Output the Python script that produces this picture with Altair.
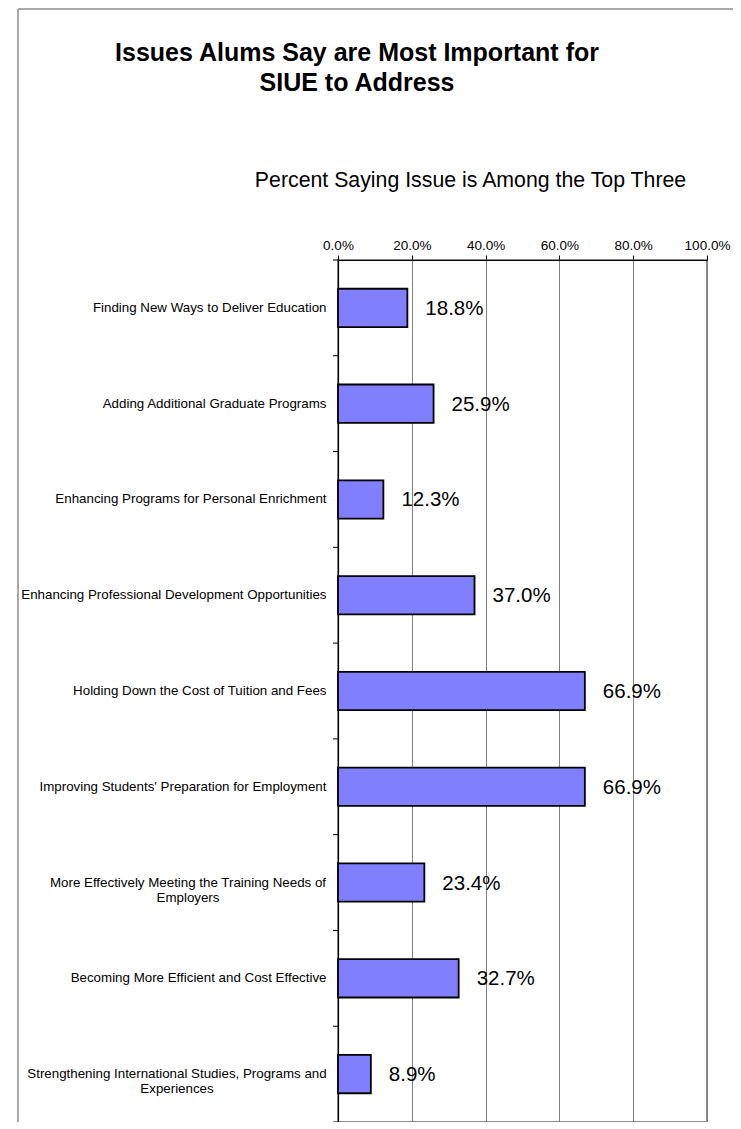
import altair as alt

categories = [
    "Finding New Ways to Deliver Education",
    "Adding Additional Graduate Programs",
    "Enhancing Programs for Personal Enrichment",
    "Enhancing Professional Development Opportunities",
    "Holding Down the Cost of Tuition and Fees",
    "Improving Students' Preparation for Employment",
    "More Effectively Meeting the Training Needs of|Employers",
    "Becoming More Efficient and Cost Effective",
    "Strengthening International Studies, Programs and|Experiences",
]
values = [0.188, 0.259, 0.123, 0.370, 0.669, 0.669, 0.234, 0.327, 0.089]
x_ticks = [0.0, 0.2, 0.4, 0.6, 0.8, 1.0]
title_lines = ["Issues Alums Say are Most Important for", "SIUE to Address"]
subtitle = "Percent Saying Issue is Among the Top Three"

records = [{"issue": c, "pct": v} for c, v in zip(categories, values)]
data = alt.Data(values=records)

W, H = 369, 862
FONT = "Liberation Sans"
LABEL_SIZE = 13.33

x_enc = alt.X(
    "pct:Q",
    scale=alt.Scale(domain=[0, 1], nice=False),
    axis=alt.Axis(
        orient="top", values=x_ticks, format=".1%", labelFlush=False,
        title=subtitle, titleX=132, titleY=-74, titleAlign="center",
        titleBaseline="alphabetic", titleFont=FONT, titleFontSize=21.3,
        titleFontWeight="normal", titleColor="black",
        labelFont=FONT, labelFontSize=13.5, labelColor="black", labelPadding=3,
        tickSize=5, tickColor="black", domainColor="black", domainWidth=1.2,
        grid=True, gridColor="#808080", gridWidth=1,
    ),
)

y_enc = alt.Y(
    "issue:N",
    sort=None,
    scale=alt.Scale(domain=categories, paddingInner=0, paddingOuter=0),
    axis=alt.Axis(
        title=None, grid=False,
        domainColor="black", domainWidth=1.2, tickColor="black", tickSize=5, tickOpacity=0,
        labelFont=FONT, labelFontSize=LABEL_SIZE, labelColor="black",
        labelExpr="indexof(datum.label, '|') >= 0 ? '' : datum.label",
        labelLimit=400, labelPadding=7,
    ),
)

base = alt.Chart(data)
bars = base.mark_bar(
    color="#8080FF", stroke="black", strokeWidth=1.8, height={"band": 0.4}
).encode(x=x_enc, y=y_enc)
labels = base.mark_text(
    align="left", baseline="middle", dx=18, dy=1, fontSize=20.5, font=FONT, color="black"
).encode(x="pct:Q", y=alt.Y("issue:N", sort=None), text=alt.Text("pct:Q", format=".1%"))

# category tick marks at the boundaries between bands
band_ticks = base.mark_rule(color="black", strokeWidth=1).encode(
    y=alt.Y("issue:N", sort=None, bandPosition=0), x=alt.value(-5), x2=alt.value(0)
)

single = base.transform_aggregate(n="count()")
bottom_tick = single.mark_rule(color="black", strokeWidth=1).encode(
    y=alt.value(H), x=alt.value(-5), x2=alt.value(0)
)


def wrapped_label(prefix, cx):
    return base.transform_filter(
        f"indexof(datum.issue, '{prefix}') == 0"
    ).transform_calculate(
        lines="split(datum.issue, '|')"
    ).mark_text(
        font=FONT, fontSize=LABEL_SIZE, align="center", baseline="middle", lineHeight=15, color="black"
    ).encode(x=alt.value(cx), y=alt.Y("issue:N", sort=None), text="lines:N")


wrap1 = wrapped_label("More Eff", -150)
wrap2 = wrapped_label("Strength", -161)

title = single.mark_text(
    font=FONT, fontSize=25, fontWeight="bold", align="center", baseline="alphabetic",
    lineHeight=30, color="black"
).encode(x=alt.value(19), y=alt.value(-199), text=alt.value(title_lines))

frame_left = single.mark_rule(color="#8c8c8c", strokeWidth=1.5).encode(
    x=alt.value(-320), x2=alt.value(-320), y=alt.value(-251), y2=alt.value(H + 30)
)
frame_top = single.mark_rule(color="#8c8c8c", strokeWidth=1.5).encode(
    x=alt.value(-320), x2=alt.value(430), y=alt.value(-251), y2=alt.value(-251)
)

chart = alt.layer(
    bars, labels, band_ticks, bottom_tick, wrap1, wrap2, title, frame_left, frame_top
).properties(
    width=W, height=H,
    autosize=alt.AutoSizeParams(type="none"),
    padding={"left": 330, "top": 252, "right": 26, "bottom": 0},
).configure(font=FONT).configure_view(stroke="#8c8c8c", strokeWidth=2)

chart.save("out.html", embed_options={"renderer": "svg", "actions": False})
